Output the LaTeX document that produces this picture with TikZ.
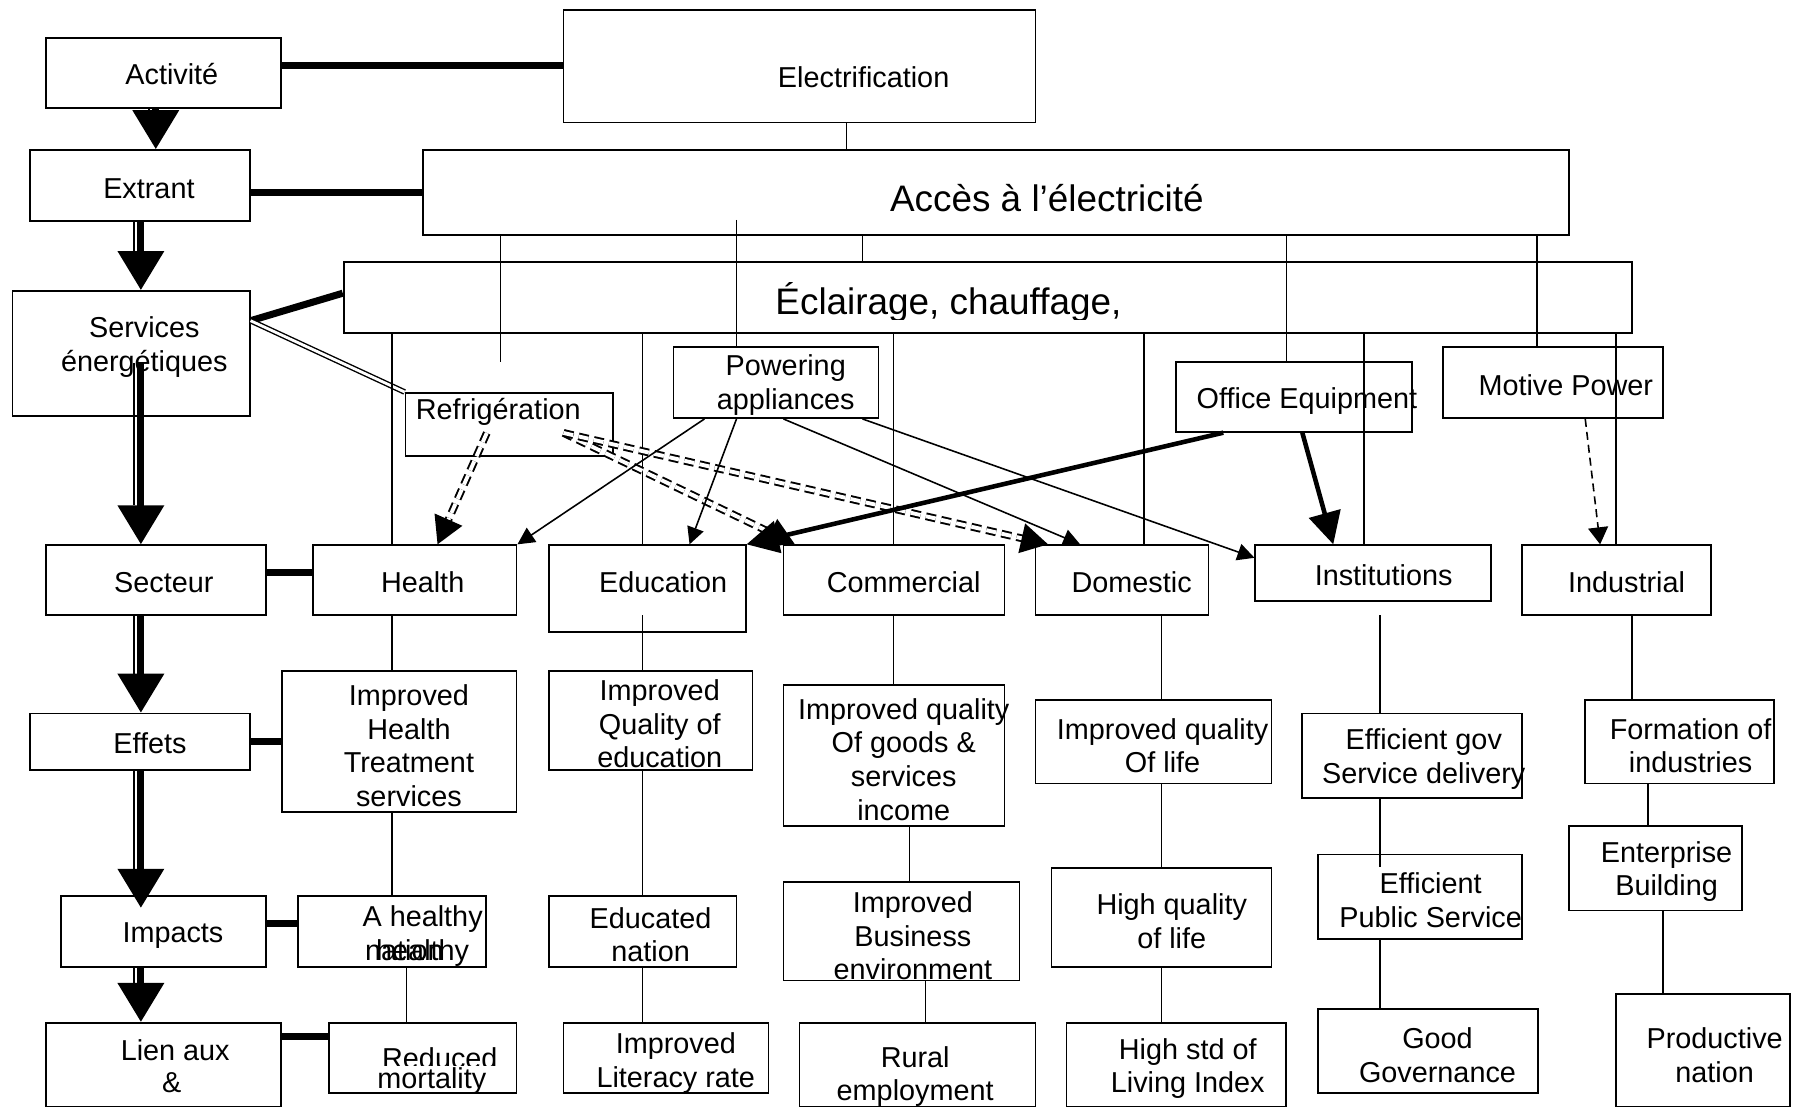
\documentclass[tikz,border=0pt]{standalone}
\usepackage{fontspec}
\setmainfont{Liberation Sans}
\usetikzlibrary{arrows.meta,fit}
\begin{document}
\begin{tikzpicture}[x=0.011454cm,y=-0.011454cm,
    box/.style={draw,line width=0.5pt,inner sep=0pt},
    txt/.style={inner sep=0pt,align=center,font=\fontsize{8.2}{9.6}\selectfont},
    bigtxt/.style={inner sep=0pt,font=\fontsize{10.5}{12.6}\selectfont},
    link/.style={line width=0.45pt},
    heavy/.style={line width=2pt},
    dblline/.style={double,line width=0.4pt,double distance=0.8pt},
    bigarrow/.style={line width=2pt,-{Triangle[width=0.45cm,length=0.39cm]}},
    bigshaft/.style={line width=0.5pt,shorten >=0.39cm},
    arrow/.style={line width=0.45pt,-{Triangle[width=0.17cm,length=0.17cm]}},
    heavyarrow/.style={line width=1.3pt,-{Triangle[width=0.32cm,length=0.32cm]}},
    dblarrow/.style={double,line width=0.55pt,double distance=1.1pt,dash pattern=on 0.1cm off 0.055cm,-{Triangle[width=0.3cm,length=0.27cm]}},
    dasharrow/.style={line width=0.45pt,dash pattern=on 0.08cm off 0.05cm,-{Triangle[width=0.2cm,length=0.17cm]}}]
\useasboundingbox (0,0) rectangle (1568,967);

% left column
\node[box,fit={(40,33) (245,94)}] (act) {};
\node[box,fit={(26,131) (218,193)}] (extr) {};
\node[box,fit={(11,254) (218,363)}] (serv) {};
\node[box,fit={(40,476) (232,537)}] (sect) {};
\node[box,fit={(26,623) (218,672)}] (eff) {};
\node[box,fit={(53,782) (232,844)}] (imp) {};
\node[box,fit={(40,893) (245,966)}] (lien) {};
\node[txt,anchor=base] (act-t) at (150,74) {Activité};
\node[txt,anchor=base] (extr-t) at (130,173) {Extrant};
\node[txt] (serv-t) at (126,303) {Services\\énergétiques};
\node[txt,anchor=base] (sect-t) at (143,517) {Secteur};
\node[txt,anchor=base] (eff-t) at (131,658) {Effets};
\node[txt,anchor=base] (imp-t) at (151,823) {Impacts};
\node[txt,anchor=base] (lien-t) at (153,926) {Lien aux};
\node[txt,anchor=base] (lien-t2) at (150,954) {\&};

% top
\node[box,fit={(492,9) (904,107)}] (elec) {};
\node[box,fit={(369,131) (1370,205)}] (acces) {};
\node[box,fit={(300,229) (1425,291)}] (ecl) {};
\node[txt,anchor=base] (elec-t) at (754,76) {Electrification};
\node[bigtxt,anchor=base] (acces-t) at (914,185) {Accès à l’électricité};
\begin{scope}
  \clip (300,229) rectangle (1425,279);
  \node[bigtxt,anchor=base] (ecl-t) at (828,275) {Éclairage, chauffage,};
\end{scope}

% services
\node[box,fit={(354,343) (535,398)}] (ref) {};
\node[box,fit={(588,303) (767,365)}] (pow) {};
\node[box,fit={(1027,316) (1233,377)}] (off) {};
\node[box,fit={(1260,303) (1452,365)}] (mot) {};
\node[txt,anchor=base] (ref-t) at (435,366) {Refrigération};
\node[txt] (pow-t) at (686,336) {Powering\\appliances};
\node[txt,anchor=base] (off-t) at (1141,357) {Office Equipment};
\node[txt,anchor=base] (mot-t) at (1367,345) {Motive Power};

% sectors
\node[box,fit={(273,476) (451,537)}] (health) {};
\node[box,fit={(479,476) (651,552)}] (educ) {};
\node[box,fit={(684,476) (877,537)}] (comm) {};
\node[box,fit={(904,476) (1055,537)}] (dom) {};
\node[box,fit={(1096,476) (1302,525)}] (inst) {};
\node[box,fit={(1329,476) (1494,537)}] (ind) {};
\node[txt,anchor=base] (health-t) at (369,517) {Health};
\node[txt,anchor=base] (educ-t) at (579,517) {Education};
\node[txt,anchor=base] (comm-t) at (789,517) {Commercial};
\node[txt,anchor=base] (dom-t) at (988,517) {Domestic};
\node[txt,anchor=base] (inst-t) at (1208,511) {Institutions};
\node[txt,anchor=base] (ind-t) at (1420,517) {Industrial};

% effects
\node[box,fit={(246,586) (451,709)}] (ihealth) {};
\node[box,fit={(479,586) (657,672)}] (iedu) {};
\node[box,fit={(684,598) (877,721)}] (icomm) {};
\node[box,fit={(904,611) (1110,684)}] (idom) {};
\node[box,fit={(1137,623) (1329,697)}] (iinst) {};
\node[box,fit={(1384,611) (1549,684)}] (iind) {};
\node[txt] (ihealth-t) at (357,651) {Improved\\Health\\Treatment\\services};
\node[txt] (iedu-t) at (576,632) {Improved\\Quality of\\education};
\node[txt] (icomm-t) at (789,663) {Improved quality\\Of goods \&\\services\\income};
\node[txt] (idom-t) at (1015,651) {Improved quality\\Of life};
\node[txt] (iinst-t) at (1243,663) {Efficient gov\\Service delivery};
\node[txt] (iind-t) at (1476,651) {Formation of\\industries};

% impacts
\node[box,fit={(260,782) (424,844)}] (ahn) {};
\node[box,fit={(479,782) (643,844)}] (eduna) {};
\node[box,fit={(684,770) (890,856)}] (busi) {};
\node[box,fit={(918,758) (1110,844)}] (hql) {};
\node[box,fit={(1151,746) (1329,820)}] (pubs) {};
\node[box,fit={(1370,721) (1521,795)}] (entr) {};
\node[txt,anchor=base] (ahn-t) at (369,809) {A healthy};
\node[txt,anchor=base] (ahn-t2) at (353,839) {nation};
\node[txt,anchor=base] (ahn-t3) at (369,839) {healthy};
\node[txt] (eduna-t) at (568,816) {Educated\\nation};
\node[txt] (busi-t) at (797,817) {Improved\\Business\\environment};
\begin{scope}
  \clip (918,758) rectangle (1110,828);
  \node[txt] (hql-t) at (1023,804) {High quality\\of life};
\end{scope}
\node[txt] (pubs-t) at (1249,786) {Efficient\\Public Service};
\node[txt] (entr-t) at (1455,761) {Enterprise\\Building};

% bottom row
\node[box,fit={(287,893) (451,954)}] (redm) {};
\node[box,fit={(492,893) (671,954)}] (lit) {};
\node[box,fit={(698,893) (904,966)}] (rural) {};
\node[box,fit={(931,893) (1123,966)}] (hstd) {};
\node[box,fit={(1151,881) (1343,954)}] (gov) {};
\node[box,fit={(1411,868) (1563,966)}] (prod) {};
\begin{scope}
  \clip (287,893) rectangle (451,930);
  \node[txt,anchor=base] (redm-t) at (384,933) {Reduced};
\end{scope}
\node[txt,anchor=base] (redm-t2) at (377,950) {mortality};
\node[txt] (lit-t) at (590,928) {Improved\\Literacy rate};
\node[txt] (rural-t) at (799,940) {Rural\\employment};
\node[txt] (hstd-t) at (1037,933) {High std of\\Living Index};
\node[txt] (gov-t) at (1255,921) {Good\\Governance};
\node[txt] (prod-t) at (1497,921) {Productive\\nation};

% free ends
\coordinate (ax0) at (136,0);
\coordinate (ax0l) at (130,0);
\coordinate (ax) at (123,0);
\coordinate (axl) at (117,0);
\coordinate (servmid) at (123,317);
\coordinate (servmidl) at (117,317);
\coordinate (acc-end) at (437,316);
\coordinate (acc-in) at (643,192);
\coordinate (educ-in) at (561,537);
\coordinate (inst-low) at (1205,537);
\coordinate (pubs-in) at (1205,757);
\coordinate (rfa) at (425,378);
\coordinate (rfb) at (492,378);

% chain arrows
\draw[bigshaft] (act.south -| ax0l) -- (extr.north -| ax0l);
\draw[bigarrow] (act.south -| ax0) -- (extr.north -| ax0);
\draw[bigshaft] (extr.south -| axl) -- (serv.north -| axl);
\draw[bigarrow] (extr.south -| ax) -- (serv.north -| ax);
\draw[bigshaft] (servmidl) -- (sect.north -| axl);
\draw[bigarrow] (servmid) -- (sect.north -| ax);
\draw[bigshaft] (sect.south -| axl) -- (eff.north -| axl);
\draw[bigarrow] (sect.south -| ax) -- (eff.north -| ax);
\draw[bigshaft,shorten >=0.26cm] (eff.south -| axl) -- (imp.north -| axl);
\draw[bigarrow,shorten >=-0.13cm] (eff.south -| ax) -- (imp.north -| ax);
\draw[bigshaft] (imp.south -| axl) -- (lien.north -| axl);
\draw[bigarrow] (imp.south -| ax) -- (lien.north -| ax);

% row links
\draw[heavy] (act.east |- 0,57) -- (elec.west |- 0,57);
\draw[heavy] (extr.east |- 0,168) -- (acces.west |- 0,168);
\draw[heavy] (serv.east |- 0,280) -- (ecl.west |- 0,256);
\draw[dblline] (serv.east |- 0,280) -- (ref.north west);
\draw[heavy] (sect.east |- 0,500) -- (health.west |- 0,500);
\draw[heavy] (eff.east |- 0,647) -- (ihealth.west |- 0,647);
\draw[heavy] (imp.east |- 0,806) -- (ahn.west |- 0,806);
\draw[heavy] (lien.east |- 0,905) -- (redm.west |- 0,905);

% tree
\draw[link] (elec.south -| 739,0) -- (acces.north -| 739,0);
\draw[link] (acces.south -| 437,0) -- (acc-end);
\draw[link] (acc-in) -- (pow.north -| 643,0);
\draw[link] (acces.south -| 753,0) -- (ecl.north -| 753,0);
\draw[link] (acces.south -| 1123,0) -- (off.north -| 1123,0);
\draw[link] (acces.south -| 1342,0) -- (mot.north -| 1342,0);
\foreach \x/\n in {342/health,561/educ,780/comm,999/dom,1191/inst,1411/ind}
  \draw[link] (ecl.south -| \x,0) -- (\n.north -| \x,0);

\draw[link] (health.south -| 342,0) -- (ihealth.north -| 342,0);
\draw[link] (educ-in) -- (iedu.north -| 561,0);
\draw[link] (comm.south -| 780,0) -- (icomm.north -| 780,0);
\draw[link] (dom.south -| 1014,0) -- (idom.north -| 1014,0);
\draw[link] (inst-low) -- (iinst.north -| 1205,0);
\draw[link] (ind.south -| 1425,0) -- (iind.north -| 1425,0);
\draw[link] (ihealth.south -| 342,0) -- (ahn.north -| 342,0);
\draw[link] (iedu.south -| 561,0) -- (eduna.north -| 561,0);
\draw[link] (icomm.south -| 794,0) -- (busi.north -| 794,0);
\draw[link] (idom.south -| 1014,0) -- (hql.north -| 1014,0);
\draw[link] (iinst.south -| 1205,0) -- (pubs-in);
\draw[link] (iind.south -| 1439,0) -- (entr.north -| 1439,0);
\draw[link] (ahn.south -| 355,0) -- (redm.north -| 355,0);
\draw[link] (eduna.south -| 561,0) -- (lit.north -| 561,0);
\draw[link] (busi.south -| 808,0) -- (rural.north -| 808,0);
\draw[link] (hql.south -| 1014,0) -- (hstd.north -| 1014,0);
\draw[link] (pubs.south -| 1205,0) -- (gov.north -| 1205,0);
\draw[link] (entr.south -| 1452,0) -- (prod.north -| 1452,0);

% service arrows
\draw[dblarrow] (rfa) -- (health.north -| 382,0);
\draw[dblarrow] (rfb) -- (comm.north -| 694,0);
\draw[dblarrow] (rfb) -- (dom.north -| 915,0);
\draw[arrow] (pow.south -| 615,0) -- (health.north east);
\draw[arrow] (pow.south -| 643,0) -- (educ.north -| 602,0);
\draw[arrow] (pow.south -| 684,0) -- (dom.north -| 943,0);
\draw[arrow] (pow.south -| 753,0) -- (inst.west |- 0,487);
\draw[heavyarrow] (off.south -| 1068,0) -- (educ.north east);
\draw[heavyarrow] (off.south -| 1137,0) -- (inst.north -| 1164,0);
\draw[dasharrow] (mot.south -| 1384,0) -- (ind.north -| 1397,0);
\end{tikzpicture}
\end{document}
